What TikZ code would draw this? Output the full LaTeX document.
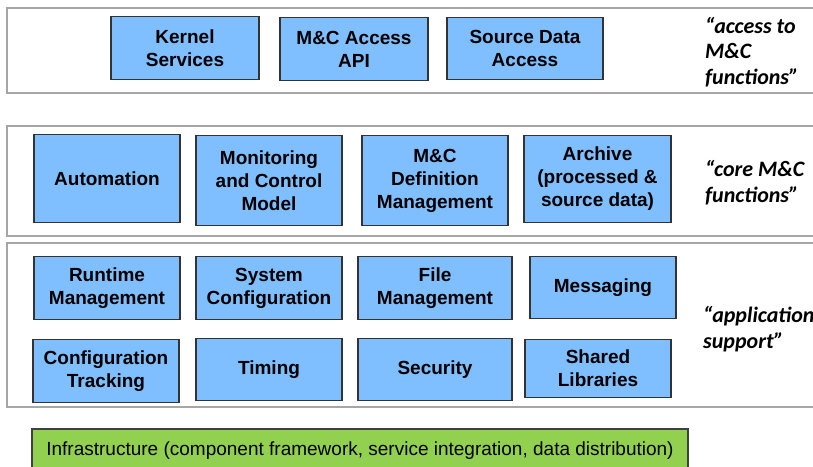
\documentclass[tikz,border=0pt]{standalone}
\usepackage{fontspec}
\setmainfont{Liberation Sans}
\newfontfamily\notefont{Carlito}
\begin{document}
\begin{tikzpicture}[x=1pt,y=-1pt,
  band/.style={draw=black!35, line width=1.4pt, fill=white},
  comp/.style={draw=black!80, line width=1.1pt, fill=compblue, align=center,
    font=\fontsize{19}{23}\selectfont\bfseries, inner sep=0pt},
  infra/.style={draw=black!75, line width=1.1pt, fill=infragreen},
  note/.style={anchor=west, align=left, inner sep=0pt,
    font=\notefont\fontsize{22}{25.5}\selectfont\bfseries\itshape}]
\definecolor{compblue}{HTML}{80BFFF}
\definecolor{infragreen}{HTML}{92D050}
\useasboundingbox (0,0) rectangle (813,466);

% layer bands
\draw[band] (7,8) rectangle (830,93);
\draw[band] (7,126) rectangle (830,236);
\draw[band] (7,243) rectangle (830,407);

% access layer
\node[comp, minimum width=148pt, minimum height=63pt] (ks)  at (185,48) {Kernel\\Services};
\node[comp, minimum width=148pt, minimum height=63pt] (api) at (354,49) {M\&C Access\\API};
\node[comp, minimum width=156pt, minimum height=62pt] (sda) at (525,48.5) {Source Data\\Access};
\node[note] (n1) at (705,52) {“access to\\M\&C\\functions”};

% core layer
\node[comp, minimum width=146pt, minimum height=88pt] (aut) at (107,178.5) {Automation};
\node[comp, minimum width=146pt, minimum height=90pt] (mcm) at (269,180.5) {Monitoring\\and Control\\Model};
\node[comp, minimum width=146pt, minimum height=90pt] (def) at (435,180.5) {M\&C\\Definition\\Management};
\node[comp, minimum width=147pt, minimum height=87pt] (arc) at (597.5,179) {Archive\\(processed \&\\source data)};
\node[note] (n2) at (705,182.5) {“core M\&C\\functions”};

% application support layer
\node[comp, minimum width=146pt, minimum height=63pt] (rt)  at (107,288) {Runtime\\Management};
\node[comp, minimum width=146pt, minimum height=63pt] (sc)  at (269,288) {System\\Configuration};
\node[comp, minimum width=154pt, minimum height=63pt] (fm)  at (435,288) {File\\Management};
\node[comp, minimum width=146pt, minimum height=62pt] (msg) at (603,287.5) {Messaging};
\node[comp, minimum width=146pt, minimum height=63pt] (ct)  at (106,371) {Configuration\\Tracking};
\node[comp, minimum width=146pt, minimum height=62pt] (tim) at (269,369.5) {Timing};
\node[comp, minimum width=154pt, minimum height=62pt] (sec) at (435,369.5) {Security};
\node[comp, minimum width=146pt, minimum height=58pt] (sl)  at (598,368.5) {Shared\\Libraries};
\node[note] (n3) at (703,329) {“application\\support”};

% infrastructure
\draw[infra] (32,429) rectangle (688,480);
\node[font=\fontsize{19}{22}\selectfont, inner sep=0pt] (inf) at (360,450.5)
  {Infrastructure (component framework, service integration, data distribution)};
\end{tikzpicture}
\end{document}
